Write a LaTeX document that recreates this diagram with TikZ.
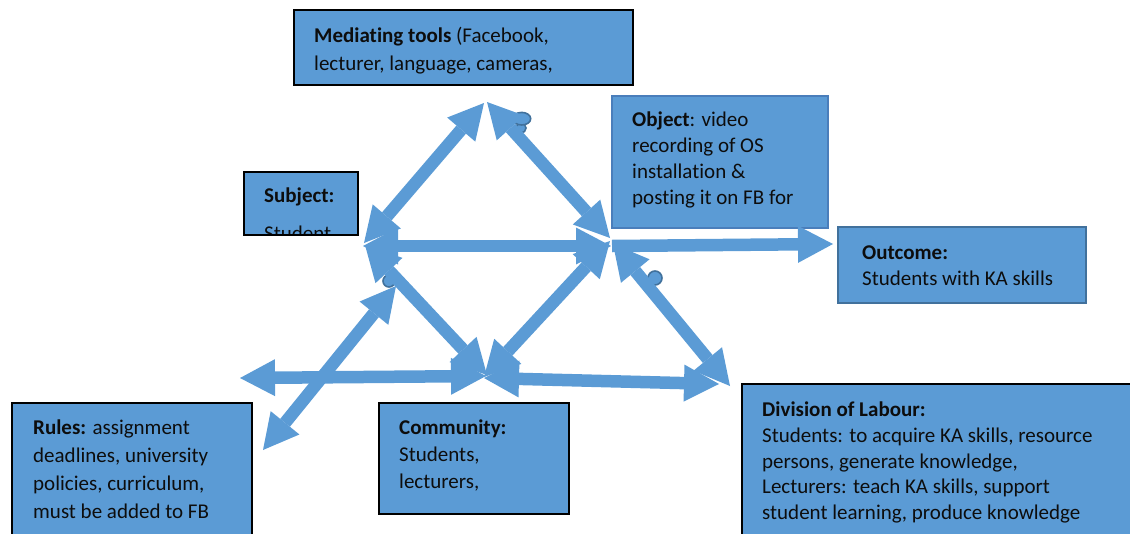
\documentclass[tikz,border=0pt]{standalone}
\usepackage{fontspec}
\setmainfont{Carlito}[Ligatures=NoCommon]
\usetikzlibrary{arrows.meta}

\definecolor{boxblue}{HTML}{5B9BD5}
\definecolor{edgeblue}{HTML}{41719C}
\definecolor{objedge}{HTML}{4A7EBB}
\definecolor{ink}{HTML}{0D0D0D}

\newcommand{\firstline}{\rule{0pt}{18pt}}

\tikzset{
  panel/.style={fill=boxblue, draw=black, line width=2pt, inner sep=0pt, outer sep=0pt, anchor=north west},
  boxtext/.style={anchor=north west, inner sep=0pt, align=left, text=ink,
                  font=\fontsize{21}{#1}\selectfont},
  head/.tip={Triangle[width=37pt,length=35pt,line width=0pt]},
  twoway/.style={draw=boxblue, line width=12.5pt, head-head},
  oneway/.style={draw=boxblue, line width=12.5pt, -head},
  handle/.style={draw=edgeblue, fill=boxblue, line width=1.6pt}
}

\begin{document}
\begin{tikzpicture}[x=1pt,y=-1pt]
\useasboundingbox (0,0) rectangle (1130,533);

% ---- boxes ----
\node[panel, minimum width=339pt, minimum height=75pt] (tools) at (294,10) {};
\node[boxtext=27.5] (toolsText) at (314,24.5)
  {\firstline\textbf{Mediating tools} (Facebook,\\lecturer, language, cameras,};

\node[panel, minimum width=114pt, minimum height=63pt] (subject) at (244,172) {};
\begin{scope}
  \clip (subject.north west) rectangle (subject.south east);
  \node[boxtext=38.5] (subjectText) at (264,184) {\firstline\textbf{Subject:}\\Student};
\end{scope}
\draw[black, line width=2pt] (subject.north west) rectangle (subject.south east);

\node[panel, draw=objedge, line width=1.5pt, minimum width=216pt, minimum height=132pt] (object) at (612,96) {};
\node[boxtext=25.8] (objectText) at (632,108.5)
  {\firstline\textbf{Object}: video\\recording of OS\\installation \&\\posting it on FB for};

\node[panel, draw=edgeblue, line width=1.8pt, minimum width=248pt, minimum height=76pt] (outcome) at (838,227) {};
\node[boxtext=25.3] (outcomeText) at (862,241.5)
  {\firstline\textbf{Outcome:}\\Students with KA skills};

\node[panel, minimum width=240pt, minimum height=150pt] (rules) at (12,403) {};
\node[boxtext=27.8] (rulesText) at (33,416.5)
  {\firstline\textbf{Rules:} assignment\\deadlines, university\\policies, curriculum,\\must be added to FB};

\node[panel, minimum width=190pt, minimum height=111pt] (community) at (379,403) {};
\node[boxtext=27] (communityText) at (399,416.5)
  {\firstline\textbf{Community:}\\Students,\\lecturers,};

\node[panel, minimum width=420pt, minimum height=170pt] (division) at (742,384) {};
\node[boxtext=25.8] (divisionText) at (762,398.3)
  {\firstline\textbf{Division of Labour:}\\Students: to acquire KA skills, resource\\persons, generate knowledge,\\Lecturers: teach KA skills, support\\student learning, produce knowledge};

% ---- rotation handles ----
\draw[handle] (521,128) circle[radius=5pt];
\draw[handle] (521.7,118.7) ellipse[x radius=9pt, y radius=6.3pt];
\draw[handle] (389,281) circle[radius=6pt];
\draw[handle] (655,278) circle[radius=7pt];

% ---- triangle vertices and arrow ends ----
\coordinate (apexL) at (484,103);
\coordinate (apexR) at (487,102);
\coordinate (subjV) at (364,243);
\coordinate (objV) at (610,238);
\coordinate (midL) at (363,246);
\coordinate (midR) at (611,246);
\coordinate (outStart) at (612,246);
\coordinate (outTip) at (833,244);
\coordinate (subjV2) at (365,245);
\coordinate (commV) at (487,375);
\coordinate (objV2) at (610,241);
\coordinate (commV2) at (484,377);
\coordinate (objV3) at (613,244);
\coordinate (divTip) at (730,386);
\coordinate (baseL) at (240,378);
\coordinate (commV3) at (486,376);
\coordinate (commV4) at (484,378);
\coordinate (baseR) at (719,384);
\coordinate (rulesTip) at (263,450);
\coordinate (rulesTop) at (396,286);

% ---- arrows ----
\draw[twoway] (apexL) -- (subjV);
\draw[twoway] (apexR) -- (objV);
\draw[twoway] (midL) -- (midR);
\draw[oneway] (outStart) -- (outTip);
\draw[twoway] (subjV2) -- (commV);
\draw[twoway] (objV2) -- (commV2);
\draw[twoway] (objV3) -- (divTip);
\draw[twoway] (baseL) -- (commV3);
\draw[twoway] (commV4) -- (baseR);
\draw[twoway] (rulesTip) -- (rulesTop);
\end{tikzpicture}
\end{document}
